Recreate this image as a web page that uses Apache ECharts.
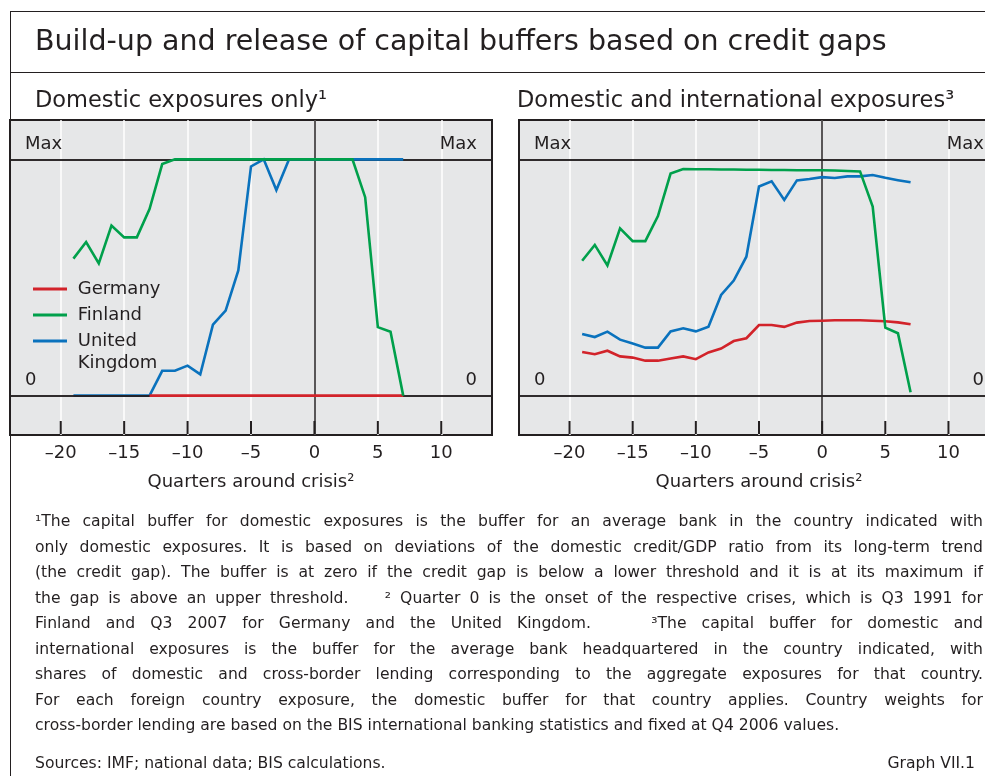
<!DOCTYPE html>
<html>
<head>
<meta charset="utf-8">
<script src="https://cdn.jsdelivr.net/npm/echarts@6/dist/echarts.min.js"></script>
<style>
  html, body { margin: 0; padding: 0; background: #ffffff; }
  body { width: 985px; height: 776px; position: relative; overflow: hidden; font-family: "DejaVu Sans", sans-serif; color: #231f20; }
  #chart { position: absolute; left: 0; top: 0; width: 985px; height: 776px; }
  .frame-top { position: absolute; left: 10px; top: 11px; width: 975px; height: 0; border-top: 1.5px solid #231f20; }
  .frame-left { position: absolute; left: 10px; top: 11px; width: 0; height: 765px; border-left: 1.5px solid #231f20; }
  .frame-mid { position: absolute; left: 10px; top: 72px; width: 975px; height: 0; border-top: 1.5px solid #231f20; }
  #notes { position: absolute; left: 35px; top: 509px; width: 948px; font-size: 15.6px; line-height: 25.5px; }
  #notes .j { text-align: justify; text-align-last: justify; white-space: nowrap; }
  #notes .l { text-align: left; white-space: nowrap; }
  #sources { position: absolute; left: 35px; top: 752px; width: 940px; font-size: 15.6px; line-height: 22px; }
  #sources .r { position: absolute; right: 0; top: 0; }
</style>
</head>
<body>
<div id="chart"></div>
<div class="frame-top"></div>
<div class="frame-left"></div>
<div class="frame-mid"></div>
<div id="notes">
  <div class="j">¹The capital buffer for domestic exposures is the buffer for an average bank in the country indicated with</div>
  <div class="j">only domestic exposures. It is based on deviations of the domestic credit/GDP ratio from its long-term trend</div>
  <div class="j">(the credit gap). The buffer is at zero if the credit gap is below a lower threshold and it is at its maximum if</div>
  <div class="j">the gap is above an upper threshold. &nbsp;&nbsp; ² Quarter 0 is the onset of the respective crises, which is Q3 1991 for</div>
  <div class="j">Finland and Q3 2007 for Germany and the United Kingdom. &nbsp;&nbsp; ³The capital buffer for domestic and</div>
  <div class="j">international exposures is the buffer for the average bank headquartered in the country indicated, with</div>
  <div class="j">shares of domestic and cross-border lending corresponding to the aggregate exposures for that country.</div>
  <div class="j">For each foreign country exposure, the domestic buffer for that country applies. Country weights for</div>
  <div class="l">cross-border lending are based on the BIS international banking statistics and fixed at Q4 2006 values.</div>
</div>
<div id="sources"><span>Sources: IMF; national data; BIS calculations.</span><span class="r">Graph VII.1</span></div>
<script>
// ---- data (share of the maximum buffer; 0 = no buffer, 1 = Max) ----
const quarters = [-19,-18,-17,-16,-15,-14,-13,-12,-11,-10,-9,-8,-7,-6,-5,-4,-3,-2,-1,0,1,2,3,4,5,6,7];
const xTicks = [-20,-15,-10,-5,0,5,10];
const seriesNames = ['Germany','Finland','United Kingdom'];

// Domestic exposures only
const germanyDomestic = [null,null,null,null,null,null,0,0,0,0,0,0,0,0,0,0,0,0,0,0,0,0,0,0,0,0,0];
const finlandDomestic = [0.58,0.65,0.56,0.72,0.67,0.67,0.79,0.98,1,1,1,1,1,1,1,1,1,1,1,1,1,1,1,0.84,0.29,0.27,0];
const ukDomestic      = [0,0,0,0,0,0,0,0.105,0.105,0.127,0.09,0.30,0.36,0.53,0.97,1,0.87,1,1,1,1,1,1,1,1,1,1];

// Domestic and international exposures
const germanyIntl = [0.185,0.175,0.19,0.166,0.161,0.148,0.148,0.157,0.166,0.154,0.183,0.199,0.231,0.243,0.299,0.299,0.291,0.309,0.316,0.317,0.319,0.319,0.319,0.317,0.315,0.31,0.302];
const finlandIntl = [0.571,0.638,0.551,0.708,0.654,0.654,0.76,0.94,0.959,0.958,0.958,0.957,0.957,0.956,0.956,0.955,0.955,0.954,0.954,0.954,0.953,0.951,0.949,0.80,0.288,0.264,0.014];
const ukIntl      = [0.261,0.248,0.271,0.237,0.221,0.203,0.203,0.272,0.285,0.272,0.292,0.426,0.487,0.588,0.885,0.907,0.828,0.911,0.917,0.925,0.921,0.928,0.928,0.934,0.922,0.912,0.903];

const maxLabel = 'Max';
const zeroLabel = '0';
const titleText = 'Build-up and release of capital buffers based on credit gaps';
const panelTitles = ['Domestic exposures only¹', 'Domestic and international exposures³'];
const xName = 'Quarters around crisis²';

// ---- styles / layout ----
const FONT = '"DejaVu Sans", sans-serif';
const INK = '#231f20';
const COLORS = { 'Germany': '#d2232a', 'Finland': '#00a04b', 'United Kingdom': '#0a72bd' };
const Z = { 'Germany': 4, 'Finland': 5, 'United Kingdom': 2 };
const Y_MIN = -1 / 6, Y_MAX = 7 / 6;
const gridTop = 120, gridH = 315, TICK_PX = 14;

const chart = echarts.init(document.getElementById('chart'), null, { renderer: 'canvas' });

function pairs(arr) { return quarters.map((q, i) => [q, arr[i]]); }

function lineSeries(name, arr, idx) {
  return {
    name: name, type: 'line', xAxisIndex: idx, yAxisIndex: idx,
    data: pairs(arr), showSymbol: false, symbol: 'none', connectNulls: false,
    z: Z[name], silent: true, animation: false,
    lineStyle: { color: COLORS[name], width: 2.6, join: 'miter' },
    itemStyle: { color: COLORS[name] }
  };
}

function refLine(value, label, z) {
  const lbl = (pos) => ({
    show: true, position: pos, formatter: label, distance: [15, 6],
    color: INK, fontSize: 18, fontFamily: FONT
  });
  return {
    z: z, silent: true, symbol: ['none', 'none'], animation: false,
    lineStyle: { color: INK, width: 1.6, type: 'solid' },
    data: [
      { yAxis: value, label: lbl('insideStartTop') },
      { yAxis: value, label: lbl('insideEndTop') }
    ]
  };
}

// short inside ticks at the bottom of each panel, placed through the axis scale
function tickSeries(idx) {
  return {
    type: 'custom', name: 'ticks', xAxisIndex: idx, yAxisIndex: idx, z: 10, silent: true,
    animation: false, clip: false,
    data: xTicks.map(t => [t, Y_MIN]),
    renderItem: (params, api) => {
      const p = api.coord([api.value(0), api.value(1)]);
      return {
        type: 'line', z2: 100,
        shape: { x1: p[0], y1: p[1] - 1, x2: p[0], y2: p[1] - TICK_PX },
        style: { stroke: INK, lineWidth: 2 }
      };
    }
  };
}

const grids = [
  { left: 10, top: gridTop, width: 482, height: gridH },
  { left: 519, top: gridTop, width: 480, height: gridH }
].map(g => Object.assign(g, { show: true, backgroundColor: '#e6e7e8', borderColor: INK, borderWidth: 2,
  containLabel: false, outerBoundsMode: 'none' }));

function xAxis(idx) {
  return {
    type: 'value', gridIndex: idx, min: -24, max: 14,
    axisLine: { show: false, onZero: false },
    axisTick: { show: false, customValues: xTicks },
    axisLabel: { show: true, customValues: xTicks, margin: 9, color: INK, fontSize: 18, fontFamily: FONT,
      formatter: v => (v < 0 ? '\u2013' + Math.abs(v) : String(v)) },
    splitLine: { show: true, lineStyle: { color: '#ffffff', width: 1.5 } },
    name: xName, nameLocation: 'middle', nameGap: 38,
    nameTextStyle: { color: INK, fontSize: 18, fontFamily: FONT }
  };
}
function yAxis(idx) {
  return {
    type: 'value', gridIndex: idx, min: Y_MIN, max: Y_MAX,
    axisLine: { show: true, onZero: true, onZeroAxisIndex: idx, lineStyle: { color: INK, width: 1.5 } },
    axisTick: { show: false }, axisLabel: { show: false }, splitLine: { show: false }
  };
}

const series = [];
[[germanyDomestic, finlandDomestic, ukDomestic], [germanyIntl, finlandIntl, ukIntl]].forEach((set, idx) => {
  set.forEach((arr, k) => {
    const s = lineSeries(seriesNames[k], arr, idx);
    if (seriesNames[k] === 'Finland') s.markLine = refLine(1, maxLabel, 1);
    if (seriesNames[k] === 'Germany') s.markLine = refLine(0, zeroLabel, 3);
    series.push(s);
  });
  series.push(tickSeries(idx));
});

const legendCommon = {
  orient: 'vertical', left: 33, padding: 0, icon: 'rect', itemWidth: 34, itemHeight: 3, itemGap: 4,
  selectedMode: false,
  formatter: n => ' ' + n,
  textStyle: { color: INK, fontSize: 18, lineHeight: 22, fontFamily: FONT }
};

const option = {
  animation: false,
  textStyle: { fontFamily: FONT },
  title: [
    { text: titleText, left: 35, top: 29, padding: 0, textStyle: { color: INK, fontSize: 28.5, lineHeight: 28, fontWeight: 'normal', fontFamily: FONT } },
    { text: panelTitles[0], left: 35, top: 90, padding: 0, textStyle: { color: INK, fontSize: 22.5, lineHeight: 23, fontWeight: 'normal', fontFamily: FONT } },
    { text: panelTitles[1], left: 517, top: 90, padding: 0, textStyle: { color: INK, fontSize: 22.5, lineHeight: 23, fontWeight: 'normal', fontFamily: FONT } }
  ],
  legend: [
    Object.assign({}, legendCommon, { top: 278, data: seriesNames.slice(0, 2) }),
    Object.assign({}, legendCommon, {
      top: 308, data: seriesNames.slice(2),
      // a blank first line keeps the icon level with the first text line
      formatter: n => '\u00a0\n ' + n.replace(' ', '\n ')
    })
  ],
  grid: grids,
  xAxis: [xAxis(0), xAxis(1)],
  yAxis: [yAxis(0), yAxis(1)],
  series: series
};
chart.setOption(option);
</script>
</body>
</html>
